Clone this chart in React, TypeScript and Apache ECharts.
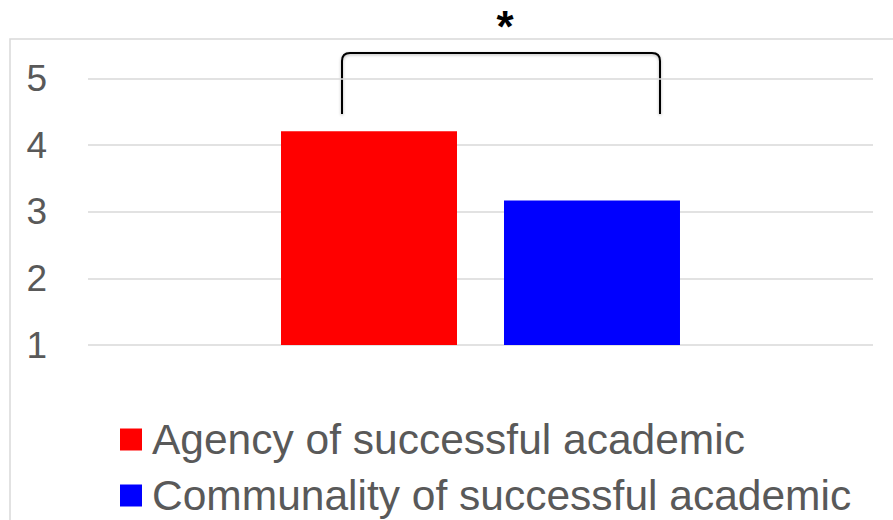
import React, { useEffect, useRef } from "react";
import * as echarts from "echarts";

const categories = [""];
const seriesNames = ["Agency of successful academic", "Communality of successful academic"];
const agencyValues = [4.21];
const communalityValues = [3.17];
const seriesColors = ["#ff0000", "#0000ff"];
const yTicks = { min: 1, max: 5, interval: 1 };
const significanceLabel = "*";

echarts.graphic.registerShape(
  "bracket",
  echarts.graphic.extendPath(
    "M342,114 L342,61 Q342,53 350,53 L652,53 Q660,53 660,61 L660,114",
    {}
  )
);

export default function App() {
  const ref = useRef<HTMLDivElement>(null);
  useEffect(() => {
    if (!ref.current) return;
    const chart = echarts.init(ref.current, null, { renderer: "svg" });
    const font = "'Liberation Sans', Arial, sans-serif";
    const legendBase = {
      orient: "vertical",
      left: 120,
      padding: 0,
      itemWidth: 22,
      itemHeight: 22,
      icon: "rect",
      textStyle: {
        color: "#595959",
        fontSize: 42.5,
        fontFamily: font,
        lineHeight: 42,
        padding: [0, 0, 0, 5],
      },
    };
    chart.setOption({
      animation: false,
      backgroundColor: "#ffffff",
      grid: { left: 88, right: 20, top: 78.5, bottom: 175 },
      xAxis: {
        type: "category",
        data: categories,
        axisLine: { show: false },
        axisTick: { show: false },
        axisLabel: { show: false },
      },
      yAxis: {
        type: "value",
        min: yTicks.min,
        max: yTicks.max,
        interval: yTicks.interval,
        axisLine: { show: false },
        axisTick: { show: false },
        axisLabel: { color: "#595959", fontSize: 37, fontFamily: font, margin: 41 },
        splitLine: { lineStyle: { color: "#d9d9d9", width: 1.5 } },
      },
      legend: [
        { ...legendBase, top: 418, data: [seriesNames[0]] },
        { ...legendBase, top: 474, data: [seriesNames[1]] },
      ],
      series: [
        {
          name: seriesNames[0],
          type: "bar",
          data: agencyValues,
          barWidth: 176,
          barGap: "26.7%",
          itemStyle: { color: seriesColors[0] },
        },
        {
          name: seriesNames[1],
          type: "bar",
          data: communalityValues,
          barWidth: 176,
          barGap: "26.7%",
          itemStyle: { color: seriesColors[1] },
        },
      ],
      graphic: [
        {
          type: "rect",
          shape: { x: 10, y: 39, width: 900, height: 500 },
          style: { fill: "none", stroke: "#d9d9d9", lineWidth: 1.5 },
          silent: true,
        },
        {
          type: "bracket",
          style: {
            fill: "none",
            stroke: "#000000",
            lineWidth: 2,
            shadowBlur: 3,
            shadowColor: "rgba(0,0,0,0.3)",
            shadowOffsetY: 1,
          },
          silent: true,
        },
        {
          type: "text",
          x: 505,
          y: 26,
          style: {
            text: significanceLabel,
            fontSize: 44,
            fontWeight: "bold",
            fontFamily: font,
            fill: "#000000",
            align: "center",
            verticalAlign: "middle",
          },
          silent: true,
        },
      ],
    });
    return () => chart.dispose();
  }, []);
  return (
    <div
      ref={ref}
      style={{ position: "fixed", left: 0, top: 0, width: 893, height: 520 }}
    />
  );
}
